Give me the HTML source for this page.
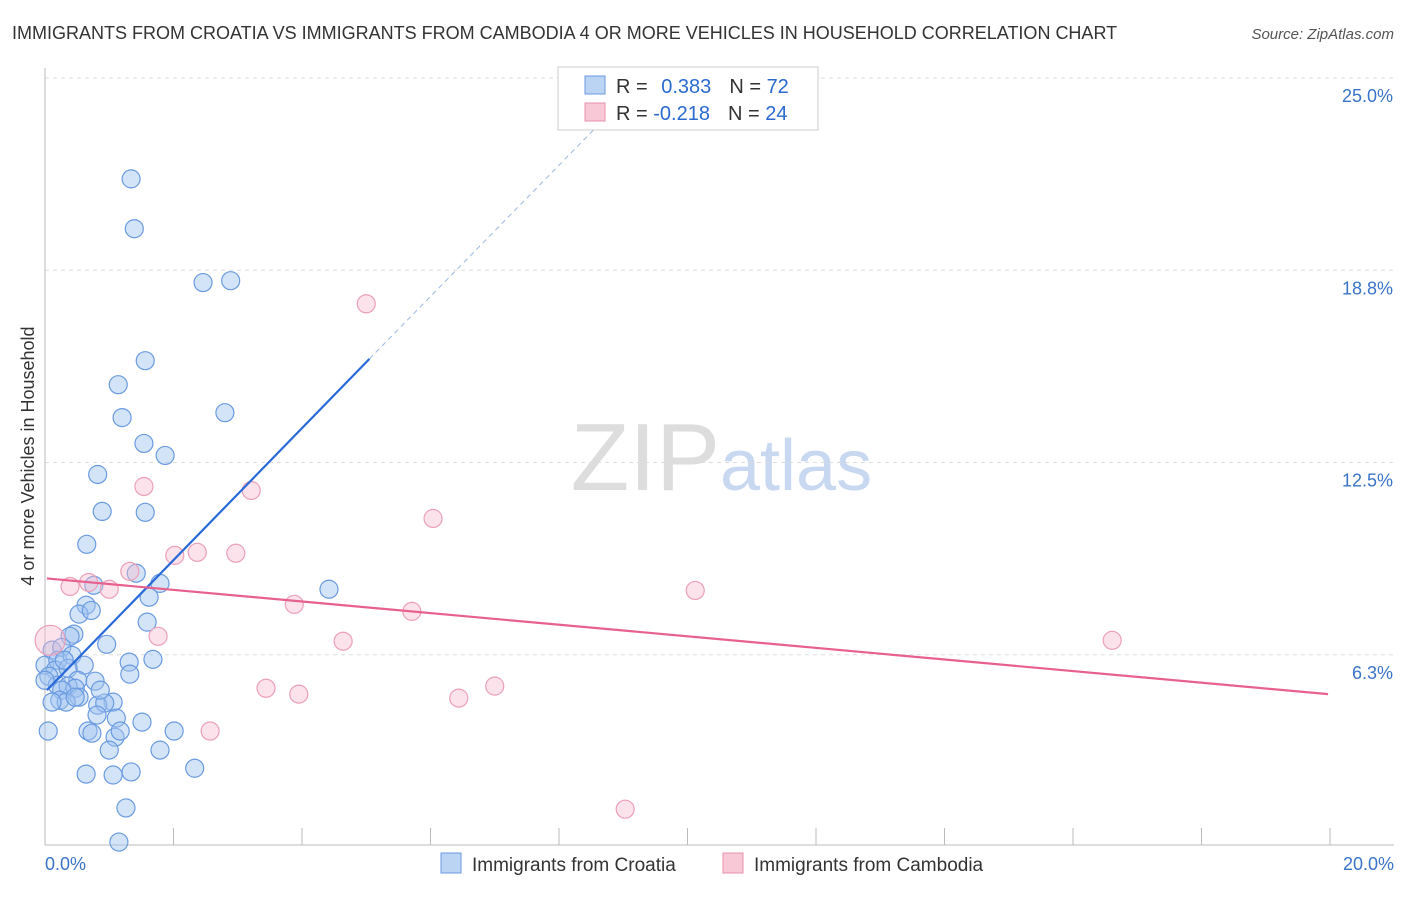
<!DOCTYPE html>
<html><head><meta charset="utf-8"><style>
body{margin:0;background:#fff;font-family:"Liberation Sans",sans-serif}
svg text{font-family:"Liberation Sans",sans-serif}
</style></head><body>
<svg id="c" width="1406" height="892">
<text x="12" y="39" font-size="18" fill="#333">IMMIGRANTS FROM CROATIA VS IMMIGRANTS FROM CAMBODIA 4 OR MORE VEHICLES IN HOUSEHOLD CORRELATION CHART</text>
<text x="1394" y="39" font-size="15" fill="#555" text-anchor="end" font-style="italic">Source: ZipAtlas.com</text>
<text x="720" y="490" font-size="96" fill="#ddd" text-anchor="end" font-family="Liberation Serif">ZIP</text>
<text x="720" y="490" font-size="72" fill="#c8d8f0">atlas</text>
<g id="grid"></g><g id="pts"></g><g id="lines"></g>
<text transform="translate(34,456) rotate(-90)" font-size="18" fill="#333" text-anchor="middle">4 or more Vehicles in Household</text>
<g>
<rect x="558" y="67" width="260" height="63" fill="#fff" stroke="#ccc"/>
<rect x="585" y="76" width="20" height="18" fill="#bcd4f4" stroke="#6a9ae0"/>
<rect x="585" y="103" width="20" height="18" fill="#f9c8d6" stroke="#e890aa"/>
<text x="616" y="93" font-size="20" fill="#333">R = <tspan fill="#2a6ad0" dx="8">0.383</tspan><tspan dx="18">N = </tspan><tspan fill="#2a6ad0">72</tspan></text>
<text x="616" y="120" font-size="20" fill="#333">R = <tspan fill="#2a6ad0">-0.218</tspan><tspan dx="18">N = </tspan><tspan fill="#2a6ad0">24</tspan></text>
</g>
<g>
<rect x="441" y="853" width="20" height="20" fill="#bcd4f4" stroke="#6a9ae0"/>
<text x="472" y="871" font-size="19" fill="#333">Immigrants from Croatia</text>
<rect x="723" y="853" width="20" height="20" fill="#f9c8d6" stroke="#e890aa"/>
<text x="754" y="871" font-size="19" fill="#333">Immigrants from Cambodia</text>
</g>
</svg>
<script>
const yTicks=[6.25,12.5,18.75,25];
const yTickLabels=["6.3%","12.5%","18.8%","25.0%"];
const xTickLabels=["0.0%","20.0%"];
const croatiaX=[1.34,1.39,2.46,2.89,1.56,1.14,1.20,2.80,1.54,1.87,0.82,0.89,1.56,0.65,1.42,1.79,0.76,1.62,0.64,0.53,0.72,1.59,0.45,0.39,0.96,0.11,0.26,1.31,1.68,0,0.20,0.42,0.61,0.16,0.36,1.32,0.06,0.51,0.78,0.19,0.36,0.47,0.26,0.53,0.23,1.06,0.82,0.93,0.81,1.11,1.51,0.05,0.67,0.73,1.09,2.01,1.00,1.79,2.33,0.64,1.06,1.34,1.26,1.15,4.42,0,0.33,0.47,0.11,1.17,0.86,0.30];
const croatiaY=[21.72,20.10,18.35,18.41,15.81,15.03,13.96,14.12,13.12,12.73,12.11,10.91,10.88,9.84,8.90,8.57,8.51,8.12,7.86,7.57,7.69,7.31,6.92,6.85,6.59,6.40,6.49,6.01,6.10,5.91,6.07,6.23,5.91,5.75,5.81,5.62,5.55,5.42,5.39,5.26,5.23,5.16,5.10,4.87,4.77,4.71,4.61,4.68,4.29,4.19,4.06,3.77,3.77,3.70,3.57,3.77,3.15,3.15,2.56,2.37,2.34,2.44,1.27,0.16,8.38,5.42,4.71,4.87,4.71,3.77,5.10,6.07];
const cambodiaX=[5.00,1.54,3.21,6.04,2.02,2.37,2.97,0.39,0.68,1.00,1.32,3.88,5.71,10.12,1.76,4.64,16.61,0.08,3.44,3.95,6.44,7.00,2.57,9.03];
const cambodiaY=[17.66,11.72,11.59,10.68,9.48,9.58,9.55,8.47,8.60,8.38,8.96,7.89,7.66,8.34,6.85,6.69,6.72,6.72,5.16,4.97,4.84,5.23,3.77,1.23];
const cambodiaR=[9,9,9,9,9,9,9,9,9,9,9,9,9,9,9,9,9,15,9,9,9,9,9,9];
const croatiaTrend=[[0.03,5.1],[5.05,15.87]];
const croatiaTrendExt=[[5.05,15.87],[9.0,24.3]];
const cambodiaTrend=[[0.03,8.73],[19.97,4.97]];
const X=v=>45+v/20*1285, Y=v=>847-v/25*769;
const NS="http://www.w3.org/2000/svg";
function mk(p,t,a){const e=document.createElementNS(NS,t);for(const k in a)e.setAttribute(k,a[k]);p.appendChild(e);return e;}
const svg=document.getElementById('c'),g=document.getElementById('grid'),P=document.getElementById('pts'),L=document.getElementById('lines');
yTicks.forEach((t,i)=>{const l=mk(g,'line',{x1:45,x2:1394,y1:Y(t),y2:Y(t),stroke:'#ddd','stroke-dasharray':'4,4'});


const tx=mk(g,'text',{x:1393,y:Y(t)+24,'font-size':18,fill:'#3a74c8','text-anchor':'end'});tx.textContent=yTickLabels[i];

});
const ax=mk(g,'line',{x1:45,x2:1394,y1:845,y2:845,stroke:'#bbb'});


const ay=mk(g,'line',{x1:45,x2:45,y1:68,y2:845,stroke:'#bbb'});


for(let i=1;i<=10;i++){const t=mk(g,'line',{x1:X(i*2),x2:X(i*2),y1:828,y2:845,stroke:'#bbb'});

}
[[0,'start',45],[1,'end',1394]].forEach(([i,a,x])=>{const t=mk(g,'text',{x:x,y:870,'font-size':18,fill:'#3a74c8','text-anchor':a});t.textContent=xTickLabels[i];

});
croatiaX.forEach((v,i)=>{const c=mk(P,'circle',{cx:X(v),cy:Y(croatiaY[i]),r:9,fill:'rgba(160,196,240,0.45)',stroke:'#6a9ae0','stroke-width':1.2});

});
cambodiaX.forEach((v,i)=>{const c=mk(P,'circle',{cx:X(v),cy:Y(cambodiaY[i]),r:cambodiaR[i],fill:'rgba(248,185,205,0.4)',stroke:'#eba0b8','stroke-width':1.2});

});
function ln(d,col,w,dash,name){const l=mk(L,'line',{x1:X(d[0][0]),y1:Y(d[0][1]),x2:X(d[1][0]),y2:Y(d[1][1]),stroke:col,'stroke-width':w});if(dash)l.setAttribute('stroke-dasharray',dash);

}
ln(croatiaTrend,'#2a6ad8',2.2,null,'croatia-trendline');
ln(croatiaTrendExt,'#9bb8e0',1,'5,4','croatia-trendline-extension');
ln(cambodiaTrend,'#e8608e',2.2,null,'cambodia-trendline');
</script>
</body></html>
